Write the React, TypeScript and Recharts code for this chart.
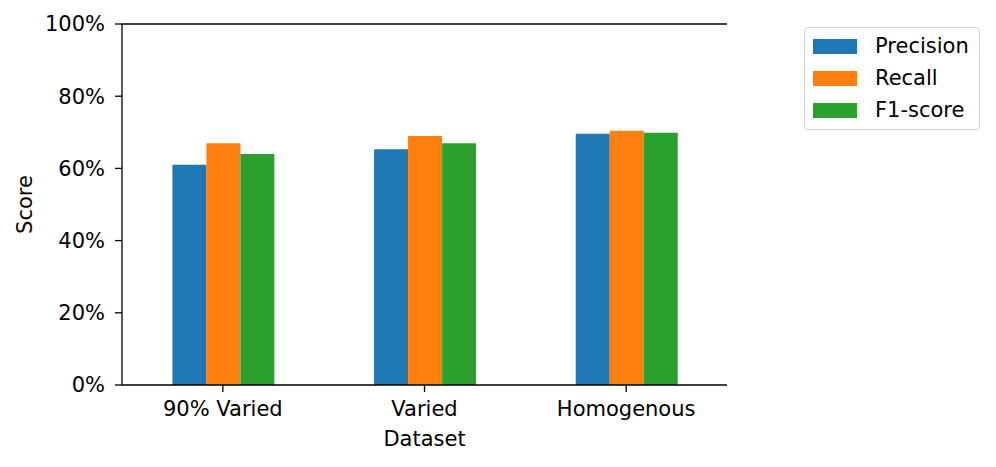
import { BarChart, Bar, XAxis, YAxis, ReferenceLine } from "recharts";

// --- Data ---
const categories = ["90% Varied", "Varied", "Homogenous"];
const precision = [61.0, 65.3, 69.6];
const recall = [67.0, 69.0, 70.4];
const f1Score = [64.0, 67.0, 69.9];
const yTicks = [0, 20, 40, 60, 80, 100];

const series = [
  { key: "precision", name: "Precision", color: "#1f77b4" },
  { key: "recall", name: "Recall", color: "#ff7f0e" },
  { key: "f1", name: "F1-score", color: "#2ca02c" },
];

const data = categories.map((name, i) => ({
  name,
  precision: precision[i],
  recall: recall[i],
  f1: f1Score[i],
}));

if (typeof document !== "undefined") {
  document.body.style.margin = "0";
  document.body.style.overflow = "hidden";
}

const FONT = "DejaVu Sans";
const FS = 21;
const tickStyle = { fill: "#000", fontSize: FS, fontFamily: FONT };

export default function App() {
  return (
    <div style={{ position: "relative", width: 996, height: 467, background: "#fff" }}>
      <BarChart
        width={996}
        height={467}
        data={data}
        margin={{ top: 24, right: 269, bottom: 0, left: 0 }}
        barCategoryGap="25%"
        barGap={0}
      >
        <XAxis
          dataKey="name"
          height={82}
          tickSize={7}
          tickMargin={9}
          tick={tickStyle}
          axisLine={{ stroke: "#000", strokeWidth: 1.3 }}
          tickLine={{ stroke: "#000", strokeWidth: 1.3 }}
          label={{
            content: (props: any) => {
              const vb = props.viewBox || {};
              return (
                <text
                  x={vb.x + vb.width / 2}
                  y={vb.y + 61}
                  textAnchor="middle"
                  fill="#000"
                  fontSize={FS}
                  fontFamily={FONT}
                >
                  Dataset
                </text>
              );
            },
          }}
        />
        <YAxis
          yAxisId="left"
          width={122}
          domain={[0, 100]}
          ticks={yTicks}
          tickFormatter={(v: number) => `${v}%`}
          tickSize={7}
          tickMargin={10}
          tick={tickStyle}
          axisLine={{ stroke: "#000", strokeWidth: 1.3 }}
          tickLine={{ stroke: "#000", strokeWidth: 1.3 }}
          label={{
            content: (props: any) => {
              const vb = props.viewBox || {};
              const cx = vb.x + 25;
              const cy = vb.y + vb.height / 2;
              return (
                <text
                  x={cx}
                  y={cy}
                  transform={`rotate(-90 ${cx} ${cy})`}
                  textAnchor="middle"
                  dominantBaseline="central"
                  fill="#000"
                  fontSize={FS}
                  fontFamily={FONT}
                >
                  Score
                </text>
              );
            },
          }}
        />
        <YAxis
          yAxisId="right"
          orientation="right"
          width={0}
          domain={[0, 100]}
          tick={false}
          tickLine={false}
          axisLine={{ stroke: "#000", strokeWidth: 1.3 }}
        />
        {series.map((s) => (
          <Bar
            key={s.key}
            yAxisId="left"
            dataKey={s.key}
            name={s.name}
            fill={s.color}
            isAnimationActive={false}
          />
        ))}
        <ReferenceLine yAxisId="left" y={100} stroke="#000" strokeWidth={1.3} />
      </BarChart>
      <div
        style={{
          position: "absolute",
          left: 804,
          top: 27,
          width: 176,
          height: 103,
          boxSizing: "border-box",
          border: "1.3px solid #d0d0d0",
          borderRadius: 4,
          fontFamily: FONT,
          fontSize: FS,
          color: "#000",
        }}
      >
        {series.map((s, i) => (
          <div
            key={s.key}
            style={{
              position: "absolute",
              left: 8,
              top: 10 + i * 32,
              height: 16,
              display: "flex",
              alignItems: "center",
              whiteSpace: "nowrap",
            }}
          >
            <span
              style={{ display: "inline-block", width: 44, height: 15, background: s.color }}
            />
            <span style={{ marginLeft: 18, lineHeight: "16px" }}>{s.name}</span>
          </div>
        ))}
      </div>
    </div>
  );
}
